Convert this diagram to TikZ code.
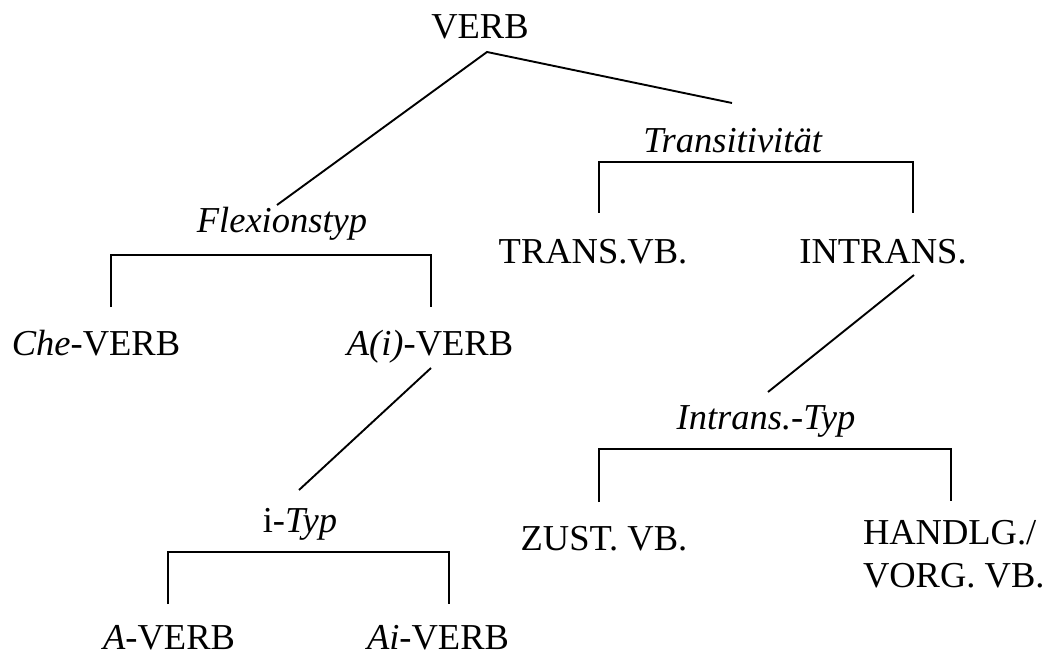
\documentclass[tikz,border=0pt]{standalone}
\usepackage{fontspec}
\setmainfont{Liberation Serif}
\usetikzlibrary{calc}
\tikzset{
  lbl/.style={inner sep=0pt, outer sep=0pt, anchor=base, font=\fontsize{36.5}{43}\selectfont},
  branch/.style={line width=1.9pt, line cap=butt, line join=miter}
}
\begin{document}
\begin{tikzpicture}[x=1pt, y=-1pt]
  \useasboundingbox (0,0) rectangle (1049,655);

  % category labels
  \node[lbl] (verb)   at (480,39)  {VERB};
  \node[lbl] (flex)   at (282,233) {\textit{Flexionstyp}};
  \node[lbl] (trans)  at (733,153) {\textit{Transitivität}};
  \node[lbl] (che)    at (96,355)  {\textit{Che}-VERB};
  \node[lbl] (aiv)    at (430,355) {\textit{A(i)}-VERB};
  \node[lbl] (tvb)    at (593,263) {TRANS.VB.};
  \node[lbl] (intr)   at (883,263) {INTRANS.};
  \node[lbl] (ityp)   at (300,532) {i-\textit{Typ}};
  \node[lbl] (ittyp)  at (766,429) {\textit{Intrans.-Typ}};
  \node[lbl] (averb)  at (169,649) {\textit{A}-VERB};
  \node[lbl] (aiverb) at (438,649) {\textit{Ai}-VERB};
  \node[lbl] (zust)   at (604,550) {ZUST. VB.};
  % two-line label: its base anchor sits on the last line
  \node[lbl, anchor=base west, align=left] (handl) at (863,587) {HANDLG./\\VORG. VB.};

  % diagonal branches
  \draw[branch] ($(flex.base)+(-5,-28)$) -- ($(verb.base)+(7,13)$) -- ($(trans.base)+(-1,-50)$);
  \draw[branch] ($(intr.base)+(31,12)$) -- ($(ittyp.base)+(2,-37)$);
  \draw[branch] ($(aiv.base)+(1,13)$) -- ($(ityp.base)+(-1,-42)$);

  % bracket splits
  \draw[branch] ($(tvb.base)+(6,-50)$) -- ++(0,-51) -| ($(intr.base)+(30,-50)$);
  \draw[branch] ($(che.base)+(15,-48)$) -- ++(0,-52) -| ($(aiv.base)+(1,-48)$);
  \draw[branch] ($(zust.base)+(-5,-48)$) -- ++(0,-53) -| ($(handl.base west)+(88,-86)$);
  \draw[branch] ($(averb.base)+(-1,-45)$) -- ++(0,-52) -| ($(aiverb.base)+(11,-45)$);
\end{tikzpicture}
\end{document}
